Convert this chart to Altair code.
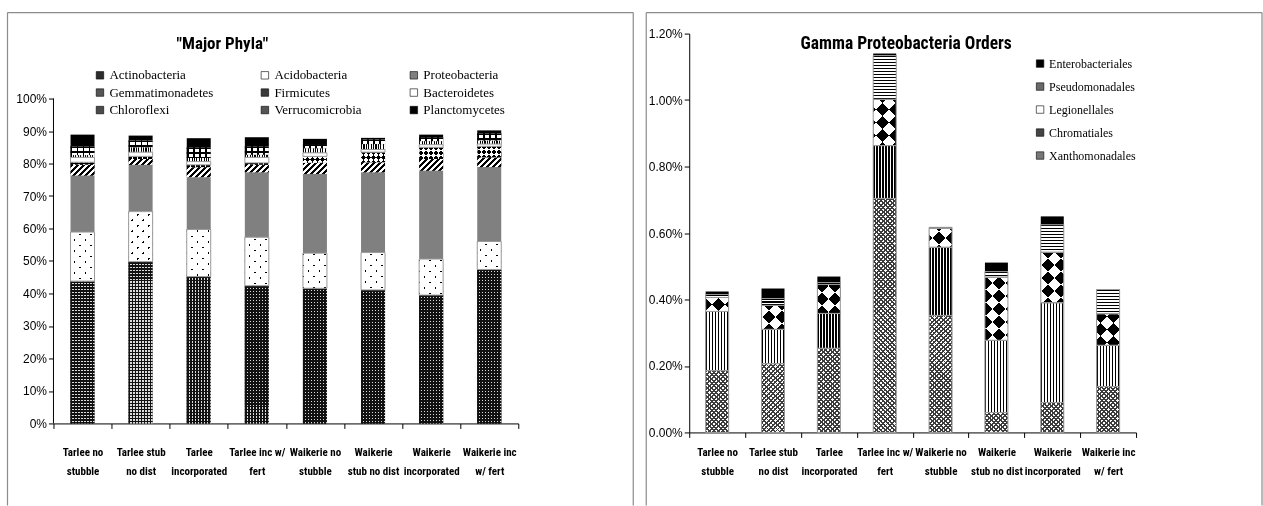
import math

import altair as alt
import pandas as pd

# ---------------------------------------------------------------- data
categories = [
    "Tarlee no\nstubble",
    "Tarlee stub\nno dist",
    "Tarlee\nincorporated",
    "Tarlee inc w/\nfert",
    "Waikerie no\nstubble",
    "Waikerie\nstub no dist",
    "Waikerie\nincorporated",
    "Waikerie inc\nw/  fert",
]

# Major phyla, % of reads (stacked bottom -> top in this order)
phyla = [
    "Actinobacteria", "Acidobacteria", "Proteobacteria",
    "Gemmatimonadetes", "Firmicutes", "Bacteroidetes",
    "Chloroflexi", "Verrucomicrobia", "Planctomycetes",
]
actinobacteria = [43.8, 49.8, 45.2, 42.4, 41.6, 41.1, 39.5, 47.4]
acidobacteria = [15.1, 15.4, 14.5, 14.9, 10.8, 11.5, 11.1, 8.6]
proteobacteria = [17.4, 14.4, 16.1, 20.0, 24.4, 24.7, 27.2, 22.9]
gemmatimonadetes = [3.3, 1.8, 3.1, 2.3, 3.4, 3.1, 3.6, 3.0]
firmicutes = [0.8, 0.8, 0.7, 0.6, 2.0, 3.1, 3.6, 3.4]
bacteroidetes = [1.5, 1.3, 1.0, 1.7, 1.1, 0.8, 0.8, 0.7]
chloroflexi = [0.7, 1.5, 1.1, 0.8, 1.4, 1.7, 1.1, 1.1]
verrucomicrobia = [2.7, 2.1, 3.3, 2.6, 1.3, 1.4, 1.2, 2.2]
planctomycetes = [3.6, 1.5, 2.8, 2.8, 1.6, 0.5, 0.8, 0.9]

# Gamma-proteobacteria orders, % of reads (stacked bottom -> top)
orders = [
    "Xanthomonadales", "Chromatiales", "Legionellales",
    "Pseudomonadales", "Enterobacteriales",
]
xanthomonadales = [0.186, 0.207, 0.253, 0.704, 0.352, 0.060, 0.090, 0.138]
chromatiales = [0.178, 0.103, 0.105, 0.159, 0.205, 0.217, 0.300, 0.124]
legionellales = [0.042, 0.072, 0.087, 0.139, 0.057, 0.190, 0.152, 0.095]
pseudomonadales = [0.009, 0.021, 0.006, 0.132, 0.003, 0.017, 0.083, 0.073]
enterobacteriales = [0.009, 0.030, 0.018, 0.006, 0.000, 0.027, 0.025, 0.000]

phyla_values = [actinobacteria, acidobacteria, proteobacteria, gemmatimonadetes,
                firmicutes, bacteroidetes, chloroflexi, verrucomicrobia, planctomycetes]
order_values = [xanthomonadales, chromatiales, legionellales,
                pseudomonadales, enterobacteriales]

left_ticks = [0.0, 0.1, 0.2, 0.3, 0.4, 0.5, 0.6, 0.7, 0.8, 0.9, 1.0]
right_ticks = [0.0, 0.002, 0.004, 0.006, 0.008, 0.010, 0.012]

# legend swatch tones
phyla_swatch = {
    "Actinobacteria": "#2b2b2b", "Acidobacteria": "#ffffff", "Proteobacteria": "#808080",
    "Gemmatimonadetes": "#555555", "Firmicutes": "#3a3a3a", "Bacteroidetes": "#ffffff",
    "Chloroflexi": "#4a4a4a", "Verrucomicrobia": "#555555", "Planctomycetes": "#000000",
}
order_swatch = {
    "Enterobacteriales": "#000000", "Pseudomonadales": "#6a6a6a",
    "Legionellales": "#ffffff", "Chromatiales": "#444444", "Xanthomonadales": "#777777",
}

# ---------------------------------------------------------------- layout
# Both panels share the same top edge; the left one keeps headroom above 100 %
# for its title and legend.
LEFT_W, LEFT_H = 465, 390
RIGHT_W, RIGHT_H = 447, 399
LEFT_MAX, RIGHT_MAX = 1.2, 0.012
BAR_L, BAR_R = 24, 23
K_L = LEFT_H / LEFT_MAX          # px per unit on the left y scale
K_R = RIGHT_H / RIGHT_MAX        # px per unit on the right y scale
CLEAR = "rgba(255,255,255,0)"
FRAME = "#8c8c8c"
SANS = "Liberation Sans, Arial, sans-serif"
CONDENSED = ("Liberation Sans Narrow, Arial Narrow, Roboto Condensed, "
             "Noto Sans Condensed, Liberation Sans, sans-serif")
SERIF = "Liberation Serif, Times New Roman, serif"


def long_table(names, lists):
    rows = []
    for order, (name, vals) in enumerate(zip(names, lists)):
        for cat, v in zip(categories, vals):
            if v > 0:
                rows.append({"category": cat, "series": name,
                             "order": order, "value": v / 100.0})
    return pd.DataFrame(rows)


def gradient_expr(kind, period, bands, span, w, k):
    """Striped fill built from a linear gradient with a fixed pixel pitch."""
    n = int(math.ceil(span / period)) + 1
    total = n * period
    parts = []
    for i in range(n):
        for f0, f1, col in bands:
            parts.append(f"{{offset:{(i + f0) * period / total:.5f},color:'{col}'}}")
            parts.append(f"{{offset:{(i + f1) * period / total:.5f},color:'{col}'}}")
    stops = "[" + ",".join(parts) + "]"
    h = f"max(0.5,(datum.y1-datum.y0)*{k:.4f})"
    den = f"({w * w}+{h}*{h})"
    if kind == "v":
        vec = f"x1:0,y1:0,x2:{total / w:.5f},y2:0"
    elif kind == "h":
        vec = f"x1:0,y1:0,x2:0,y2:{total:.3f}/{h}"
    elif kind == "d1":
        vec = f"x1:0,y1:0,x2:{total * w:.3f}/{den},y2:{total:.3f}*{h}/{den}"
    else:
        vec = f"x1:0,y1:1,x2:{total * w:.3f}/{den},y2:1-{total:.3f}*{h}/{den}"
    return {"expr": f"{{gradient:'linear',{vec},stops:{stops}}}"}


def stacked(df):
    return alt.Chart(df).transform_stack(
        stack="value", groupby=["category"], as_=["y0", "y1"],
        sort=[alt.SortField("order", order="ascending")],
    )


def build_panel(df, swatch, legend_domain, legend, patterns,
                outlined, w, k, ymax, yaxis, xaxis):
    base = stacked(df)
    x = alt.X("category:N", sort=categories,
              scale=alt.Scale(paddingInner=0, paddingOuter=0), axis=xaxis)
    y = alt.Y("y0:Q", scale=alt.Scale(domain=[0, ymax], nice=False), axis=yaxis)
    layers = [
        base.mark_bar(size=w).encode(
            x=x, y=y, y2="y1:Q",
            color=alt.Color("series:N",
                            scale=alt.Scale(domain=legend_domain,
                                            range=[swatch[s] for s in legend_domain]),
                            legend=legend),
        )
    ]
    for name, specs in patterns.items():
        vals = df.loc[df["series"] == name, "value"]
        max_h = float(vals.max()) * k if len(vals) else 0.0
        for spec in specs:
            kind, period, bands = spec[0], spec[1], spec[2]
            extra = spec[3] if len(spec) > 3 else {}
            span = (w if kind in ("v", "d1", "d2") else 0) + (0 if kind == "v" else max_h) + 6
            layers.append(
                base.transform_filter(alt.datum.series == name)
                .mark_bar(size=w, fill=gradient_expr(kind, period, bands, span, w, k), **extra)
                .encode(x=x, y=y, y2="y1:Q")
            )
    if outlined:
        layers.append(
            base.transform_filter(alt.FieldOneOfPredicate(field="series", oneOf=outlined))
            .mark_bar(size=w, fillOpacity=0, stroke="#9a9a9a", strokeWidth=1)
            .encode(x=x, y=y, y2="y1:Q")
        )
    return layers


one = alt.Chart(pd.DataFrame({"k": [0]}))


def frame(left, top, right, bottom, right_side=True):
    parts = [
        one.mark_rule(color=FRAME, strokeWidth=1.2).encode(
            x=alt.value(left), x2=alt.value(right), y=alt.value(top)),
        one.mark_rule(color=FRAME, strokeWidth=1.2).encode(
            x=alt.value(left), y=alt.value(top), y2=alt.value(bottom)),
    ]
    if right_side:
        parts.append(one.mark_rule(color=FRAME, strokeWidth=1.2).encode(
            x=alt.value(right), y=alt.value(top), y2=alt.value(bottom)))
    return parts


def title_text(text, x, y, size):
    return one.mark_text(font=CONDENSED, fontSize=size, fontWeight="bold",
                         align="center", baseline="alphabetic", color="black").encode(
        x=alt.value(x), y=alt.value(y), text=alt.value(text))


def x_axis(pad):
    return alt.Axis(title=None, labelAngle=0, labelFont=CONDENSED, labelFontWeight="bold",
                    labelFontSize=11, labelLineHeight=19, labelPadding=pad,
                    labelExpr="split(datum.label, '\\n')", tickSize=5,
                    tickBand="extent", labelColor="black", domainColor="black",
                    tickColor="black", labelBaseline="top", grid=False,
                    labelOverlap=False)


def y_axis(values, fmt, show_domain=True):
    opts = dict(title=None, values=values, format=fmt, labelFont=SANS,
                labelFontSize=12, labelColor="black", tickSize=5, labelPadding=2,
                tickColor="black", grid=False, labelOverlap=False)
    if show_domain:
        opts["domainColor"] = "black"
    else:
        opts["domain"] = False
    return alt.Axis(**opts)


# ---------------------------------------------------------------- left panel
left_df = long_table(phyla, phyla_values)
left_patterns = {
    "Actinobacteria": [
        ("v", 3, [(0, 0.62, "#111111"), (0.62, 1, "#dcdcdc")]),
        ("h", 3, [(0, 0.62, "#111111"), (0.62, 1, CLEAR)]),
    ],
    "Acidobacteria": [
        ("d1", 11, [(0, 0.2, "#000000"), (0.2, 1, "#ffffff")]),
        ("d2", 11, [(0, 0.2, CLEAR), (0.2, 1, "#ffffff")]),
    ],
    "Gemmatimonadetes": [
        ("d1", 6, [(0, 0.5, "#000000"), (0.5, 1, "#ffffff")]),
    ],
    "Firmicutes": [
        ("d1", 10, [(0, 0.5, "#000000"), (0.5, 1, "#ffffff")]),
        ("d2", 10, [(0, 0.5, "#000000"), (0.5, 1, "#ffffff")], {"blend": "difference"}),
    ],
    "Bacteroidetes": [
        ("v", 24, [(0, 1, "#ffffff")]),
    ],
    "Chloroflexi": [
        ("v", 2.4, [(0, 0.45, "#000000"), (0.45, 1, "#ffffff")]),
    ],
    "Verrucomicrobia": [
        ("v", 6, [(0, 0.3, "#000000"), (0.3, 1, "#ffffff")]),
        ("h", 5, [(0, 0.3, "#000000"), (0.3, 1, CLEAR)]),
    ],
}
# legend is filled column by column: three rows of three entries
left_legend_order = [phyla[i] for i in (0, 3, 6, 1, 4, 7, 2, 5, 8)]
left_legend = alt.Legend(
    title=None, orient="none", legendX=40, legendY=35, columns=3, gridAlign="each",
    columnPadding=45, rowPadding=3.5, symbolType="square", symbolSize=56,
    symbolStrokeColor="black", symbolStrokeWidth=0.6, labelFont=SERIF,
    labelFontSize=13, labelColor="black", labelOffset=3, padding=0,
)
left_yaxis = y_axis(left_ticks, ".0%", show_domain=False)
left_layers = build_panel(
    left_df, phyla_swatch, left_legend_order, left_legend, left_patterns,
    ["Acidobacteria", "Bacteroidetes"],
    BAR_L, K_L, LEFT_MAX, left_yaxis, x_axis(18),
)
# y axis line only spans 0 - 100 %
left_axis_line = one.mark_rule(color="black", strokeWidth=1).encode(
    x=alt.value(0), y=alt.value(LEFT_H - K_L * 1.0), y2=alt.value(LEFT_H))
left = alt.layer(
    *left_layers,
    left_axis_line,
    title_text('"Major Phyla"', 169, 15, 17),
    *frame(-46, -21, 580, 472),
).properties(width=LEFT_W, height=LEFT_H)

# ---------------------------------------------------------------- right panel
right_df = long_table(orders, order_values)
right_patterns = {
    "Xanthomonadales": [
        ("d1", 4.5, [(0, 0.42, "#3c3c3c"), (0.42, 1, "#ffffff")]),
        ("d2", 4.5, [(0, 0.42, "#3c3c3c"), (0.42, 1, CLEAR)]),
    ],
    "Chromatiales": [
        ("v", 3, [(0, 0.5, "#000000"), (0.5, 1, "#ffffff")]),
    ],
    "Legionellales": [
        ("d1", 26, [(0, 0.5, "#000000"), (0.5, 1, "#ffffff")]),
        ("d2", 26, [(0, 0.5, "#000000"), (0.5, 1, "#ffffff")], {"blend": "difference"}),
    ],
    "Pseudomonadales": [
        ("h", 3, [(0, 0.5, "#000000"), (0.5, 1, "#ffffff")]),
    ],
}
right_legend = alt.Legend(
    title=None, orient="none", legendX=345, legendY=24, direction="vertical",
    rowPadding=11, symbolType="square", symbolSize=56, symbolStrokeColor="black",
    symbolStrokeWidth=0.6, labelFont=SERIF, labelFontSize=12, labelColor="black",
    labelOffset=3, padding=0,
)
right_layers = build_panel(
    right_df, order_swatch, orders[::-1], right_legend, right_patterns,
    ["Xanthomonadales", "Chromatiales", "Legionellales", "Pseudomonadales"],
    BAR_R, K_R, RIGHT_MAX, y_axis(right_ticks, ".2%"), x_axis(9),
)
right = alt.layer(
    *right_layers,
    title_text("Gamma Proteobacteria Orders", 217, 15, 17.5),
    *frame(-43, -21, 573, 472),
).properties(width=RIGHT_W, height=RIGHT_H)

chart = (
    alt.hconcat(left, right, spacing=11)
    .resolve_scale(color="independent")
    .properties(padding={"left": 6.5, "top": 11.5, "right": 0, "bottom": 0})
    .configure_view(stroke="transparent", strokeWidth=0)
)

chart.save("out.html", embed_options={"renderer": "svg", "actions": False})
